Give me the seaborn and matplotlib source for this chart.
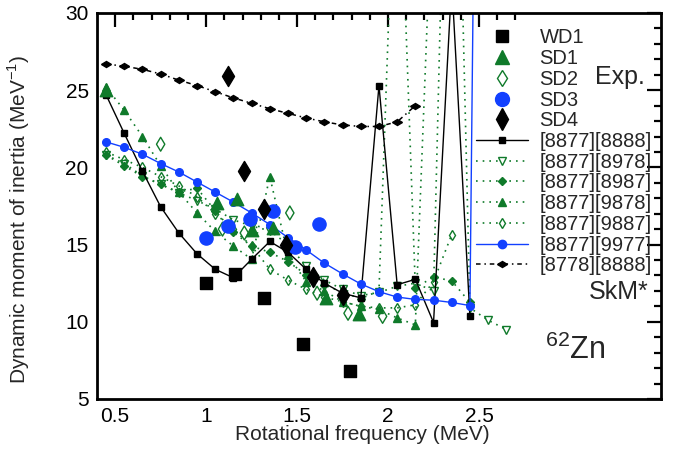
import numpy as np
import pandas as pd
import matplotlib
matplotlib.use("Agg")
import matplotlib.pyplot as plt
import seaborn as sns
from matplotlib.lines import Line2D
from matplotlib.markers import MarkerStyle
from matplotlib.transforms import Affine2D

sns.set_theme(style="white")
plt.rcParams['font.family'] = ['Liberation Sans', 'DejaVu Sans']
plt.rcParams['mathtext.fontset'] = 'custom'
plt.rcParams['mathtext.rm'] = 'Liberation Sans'

GREEN = "#0f7a2a"
BLUE = "#1240ff"

# ---------------- data ----------------
omega = [round(0.45 + 0.1 * k, 2) for k in range(23)]

th_8888 = [24.7, 22.2, 19.75, 17.45, 15.75, 14.4, 13.4, 12.85, 14.05, 15.2, 14.5,
           13.4, 12.5, 11.85, 11.55, 25.3, 12.4, 12.75, 9.95, 32.0, 10.35]
th_8978 = [20.8, 20.25, 19.45, 18.9, 18.35, 17.85, 17.3, 16.6, 16.2, 15.9, 15.0,
           13.6, 12.7, 12.1, 11.7, 11.9, 12.3, 12.5, 12.0, 60.0, 10.9, 10.1, 9.5]
th_8987 = [20.8, 20.1, 19.4, 18.9, 18.4, 18.65, 17.2, 15.8, 14.9, 14.5, 13.9,
           13.05, 12.4, 11.9, 11.5, 12.0, 45.0, 12.2, 12.9, 12.65, 11.25]
th_9878 = [25.2, 23.7, 22.0, 20.1, 18.4, 17.05, 15.85, 14.9, 14.05, 19.4, 14.3,
           12.6, 12.0, 11.3, 11.0, 10.8, 10.25, 9.8, 40.0]
th_9887 = [21.0, 20.5, 20.0, 19.4, 18.8, 18.1, 17.0, 16.0, 14.9, 13.4, 12.7,
           12.1, 11.6, 11.3, 11.0, 10.9, 10.9, 11.1, 12.6, 15.65]
th_9977 = [21.65, 21.3, 20.85, 20.25, 19.7, 19.05, 18.4, 17.75, 17.05, 16.3, 15.45,
           14.65, 13.8, 13.1, 12.45, 11.95, 11.6, 11.45, 11.4, 11.25, 11.05, 125.0]
th_8778 = [26.7, 26.55, 26.35, 26.05, 25.65, 25.3, 24.9, 24.5, 24.15, 23.8, 23.5,
           23.2, 22.95, 22.75, 22.65, 22.65, 22.95, 24.0]

wd1_x = [1.00, 1.16, 1.32, 1.53, 1.79]
wd1_y = [12.5, 13.1, 11.55, 8.55, 6.8]
sd1_x = [0.45, 1.06, 1.17, 1.25, 1.37, 1.66, 1.84]
sd1_y = [25.0, 17.7, 17.95, 15.95, 16.05, 11.55, 10.5]
sd2_x = [0.75, 1.09, 1.21, 1.46, 1.61, 1.78, 1.97]
sd2_y = [21.5, 16.0, 15.75, 17.05, 11.85, 10.55, 10.35]
sd3_x = [1.00, 1.12, 1.24, 1.37, 1.49, 1.62]
sd3_y = [15.4, 16.2, 16.65, 17.15, 14.85, 16.35]
sd4_x = [1.12, 1.21, 1.32, 1.44, 1.59, 1.75]
sd4_y = [25.9, 19.75, 17.3, 15.0, 12.9, 11.75]

# ---------------- figure ----------------
fig = plt.figure(figsize=(6.8, 4.69), dpi=100)
ax = fig.add_axes([0.1426, 0.1493, 0.972 - 0.1426, 0.9723 - 0.1493])

flat_diamond = MarkerStyle("d", transform=Affine2D().rotate_deg(90))


def theory(vals, color, ls, marker, ms, mfc, lw=1.0, mew=1.0):
    df = pd.DataFrame({"x": omega[:len(vals)], "y": vals})
    sns.lineplot(data=df, x="x", y="y", ax=ax, color=color, linestyle=ls, lw=lw,
                 marker=marker, markersize=ms, markerfacecolor=mfc,
                 markeredgecolor=color, markeredgewidth=mew,
                 sort=False, estimator=None, legend=False)


dot = (0, (1, 3))
dashdot = (0, (3, 2.5, 1, 2.5))
theory(th_8778, "black", dashdot, flat_diamond, 5, "black", lw=1.1)
theory(th_8978, GREEN, dot, "v", 6, "none", lw=1.2)
theory(th_8987, GREEN, dot, "D", 4, GREEN, lw=1.2)
theory(th_9878, GREEN, dot, "^", 6, GREEN, lw=1.2)
theory(th_9887, GREEN, dot, "d", 5.5, "none", lw=1.2)
theory(th_8888, "black", "-", "s", 4.5, "black")
theory(th_9977, BLUE, "-", "o", 5.5, BLUE)


def exp(xs, ys, marker, size, color, fc, lw=1.0):
    sns.scatterplot(x=xs, y=ys, ax=ax, marker=marker, s=size, color=fc,
                    edgecolor=color, linewidth=lw, legend=False, zorder=5)


exp(wd1_x, wd1_y, "s", 70, "black", "black")
exp(sd1_x, sd1_y, "^", 80, GREEN, GREEN)
exp(sd2_x, sd2_y, "d", 50, GREEN, "none", 1.0)
exp(sd3_x, sd3_y, "o", 90, BLUE, BLUE)
exp(sd4_x, sd4_y, "d", 105, "black", "black")

ax.set_xlim(0.4, 3.5)
ax.set_ylim(5, 30)
ax.set_xticks([0.5, 1.0, 1.5, 2.0, 2.5])
ax.set_xticklabels(["0.5", "1", "1.5", "2", "2.5"])
ax.set_xticks([v / 10 for v in range(6, 28) if v % 5 != 0], minor=True)
ax.set_yticks([5, 10, 15, 20, 25, 30])
ax.set_yticks([v for v in range(6, 30) if v % 5 != 0], minor=True)
ax.tick_params(which="both", direction="in", top=True, right=True,
               labelsize=15, colors="black", width=1.6)
ax.tick_params(which="major", length=10, pad=6)
ax.tick_params(which="minor", length=5)
for s in ax.spines.values():
    s.set_linewidth(2.0)
    s.set_color("black")

ax.set_xlabel("Rotational frequency (MeV)", fontsize=15)
ax.set_ylabel("Dynamic moment of inertia (MeV$^{-1}$)", fontsize=15)
ax.xaxis.set_label_coords(0.47, -0.068)
ax.yaxis.set_label_coords(-0.115, 0.464)

# legend
handles = [
    Line2D([], [], ls="none", marker="s", ms=9, color="black"),
    Line2D([], [], ls="none", marker="^", ms=10, color=GREEN),
    Line2D([], [], ls="none", marker="d", ms=8, mfc="white", mec=GREEN, mew=1.0),
    Line2D([], [], ls="none", marker="o", ms=10, color=BLUE),
    Line2D([], [], ls="none", marker="d", ms=11, color="black"),
    Line2D([], [], ls="-", lw=1.0, marker="s", ms=5, color="black"),
    Line2D([], [], ls=dot, lw=1.2, marker="v", ms=6, color=GREEN, mfc="white"),
    Line2D([], [], ls=dot, lw=1.2, marker="D", ms=4, color=GREEN),
    Line2D([], [], ls=dot, lw=1.2, marker="^", ms=6, color=GREEN),
    Line2D([], [], ls=dot, lw=1.2, marker="d", ms=5.5, color=GREEN, mfc="white"),
    Line2D([], [], ls="-", lw=1.0, marker="o", ms=6, color=BLUE),
    Line2D([], [], ls=dashdot, lw=1.1, marker=flat_diamond, ms=5, color="black"),
]
labels = ["WD1", "SD1", "SD2", "SD3", "SD4", "[8877][8888]", "[8877][8978]",
          "[8877][8987]", "[8877][9878]", "[8877][9887]", "[8877][9977]",
          "[8778][8888]"]
leg = ax.legend(handles, labels, loc="upper left", bbox_to_anchor=(0.672, 0.96),
                frameon=False, fontsize=14.5, handlelength=2.6, handletextpad=0.55,
                labelspacing=0.085, borderaxespad=0, borderpad=0, markerfirst=True)

ax.text(0.972, 0.833, "Exp.", transform=ax.transAxes, fontsize=18, ha="right", va="center")
ax.text(0.978, 0.277, "SkM*", transform=ax.transAxes, fontsize=18, ha="right", va="center")
ax.text(0.795, 0.125, "$^{62}$Zn", transform=ax.transAxes, fontsize=22, ha="left", va="center")

fig.savefig("out.png", dpi=100)
